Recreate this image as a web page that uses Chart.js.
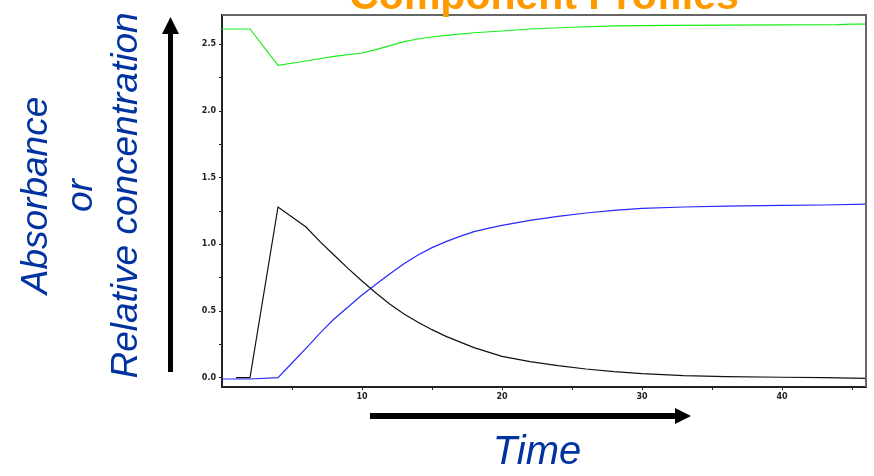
<!DOCTYPE html>
<html>
<head>
<meta charset="utf-8">
<script src="https://cdn.jsdelivr.net/npm/chart.js@4.4.1/dist/chart.umd.min.js"></script>
<style>
    html, body { margin: 0; padding: 0; background: #fff; }
    #wrap { position: relative; width: 874px; height: 476px; overflow: hidden; }
    #chart { position: absolute; left: 0; top: 0; }
    .title {
        position: absolute; left: 344px; top: -25px; width: 400px; text-align: center;
        font: bold 41px/41px "Liberation Sans", Arial, sans-serif; color: #ff9900; white-space: nowrap;
    }
    .ylabel {
        position: absolute; left: -121px; top: 128px; width: 400px; height: 135px;
        transform: rotate(-90deg); text-align: center;
        font: italic 37px/45px "Liberation Sans", Arial, sans-serif; color: #0033a0; white-space: nowrap;
    }
    .xlabel {
        position: absolute; left: 437px; top: 430px; width: 200px; text-align: center;
        font: italic 40px/40px "Liberation Sans", Arial, sans-serif; color: #0033a0;
    }
    svg { position: absolute; left: 0; top: 0; }
</style>
</head>
<body>
<div id="wrap">
    <canvas id="chart" width="874" height="476"></canvas>
    <svg width="874" height="476">
        <rect x="168" y="32" width="5" height="340" fill="#000"/>
        <polygon points="162,34 179,34 170.5,17" fill="#000"/>
        <rect x="370" y="413" width="308" height="6" fill="#000"/>
        <polygon points="675,408 675,424 691,416" fill="#000"/>
    </svg>
    <div class="title">Component Profiles</div>
    <div class="ylabel">Absorbance<br>or<br>Relative concentration</div>
    <div class="xlabel">Time</div>
</div>
<script>
    // Données
    const greenTime   = [0, 2, 4, 6, 8, 10, 11, 12, 13, 14, 15, 16, 18, 20, 22, 25, 28, 32, 36, 40, 44, 45, 46];
    const greenValues = [2.615, 2.615, 2.343, 2.375, 2.41, 2.435, 2.46, 2.49, 2.52, 2.54, 2.555, 2.567, 2.587, 2.60, 2.615, 2.628, 2.638, 2.642, 2.644, 2.646, 2.648, 2.652, 2.652];

    const blackTime   = [1, 2, 4, 6, 7, 8, 9, 10, 11, 12, 13, 14, 15, 16, 18, 20, 22, 24, 26, 28, 30, 33, 36, 40, 43, 46];
    const blackValues = [0, 0, 1.28, 1.13, 1.02, 0.92, 0.82, 0.725, 0.635, 0.55, 0.478, 0.415, 0.36, 0.31, 0.225, 0.16, 0.12, 0.09, 0.065, 0.045, 0.03, 0.015, 0.008, 0.003, 0.0, -0.005];

    const blueTime    = [0, 2, 4, 5, 6, 7, 8, 9, 10, 11, 12, 13, 14, 15, 16, 17, 18, 19, 20, 22, 24, 26, 28, 30, 33, 36, 40, 43, 46];
    const blueValues  = [-0.01, -0.01, 0.0, 0.11, 0.22, 0.334, 0.44, 0.53, 0.62, 0.70, 0.78, 0.855, 0.92, 0.975, 1.02, 1.06, 1.095, 1.12, 1.142, 1.18, 1.21, 1.235, 1.255, 1.27, 1.28, 1.287, 1.292, 1.295, 1.302];

    const xTicks = [5, 10, 15, 20, 25, 30, 35, 40, 45];
    const yTicks = [0, 0.25, 0.5, 0.75, 1.0, 1.25, 1.5, 1.75, 2.0, 2.25, 2.5];

    function toPoints(xs, ys) {
        return xs.map((x, i) => ({ x: x, y: ys[i] }));
    }

    // Cadre gris en haut et à droite
    const framePlugin = {
        id: 'frame',
        afterDraw(chart) {
            const a = chart.chartArea;
            const ctx = chart.ctx;
            ctx.save();
            ctx.strokeStyle = '#666';
            ctx.lineWidth = 2;
            ctx.beginPath();
            ctx.moveTo(a.left, a.top);
            ctx.lineTo(a.right, a.top);
            ctx.lineTo(a.right, a.bottom);
            ctx.stroke();
            ctx.restore();
        }
    };

    const tickFont = { family: '"DejaVu Sans", Verdana, sans-serif', size: 8, weight: 'bold' };

    new Chart(document.getElementById('chart'), {
        type: 'line',
        data: {
            datasets: [
                { data: toPoints(greenTime, greenValues), borderColor: '#1aee1a', borderWidth: 1.2 },
                { data: toPoints(blackTime, blackValues), borderColor: '#111', borderWidth: 1.2 },
                { data: toPoints(blueTime, blueValues), borderColor: '#2828ff', borderWidth: 1.2 }
            ]
        },
        options: {
            responsive: false,
            animation: false,
            elements: { point: { radius: 0 }, line: { tension: 0 } },
            layout: { padding: { left: 182, top: 15, right: 8, bottom: 59 } },
            plugins: { legend: { display: false }, tooltip: { enabled: false } },
            scales: {
                x: {
                    type: 'linear',
                    min: 0,
                    max: 46,
                    bounds: 'data',
                    afterBuildTicks: axis => { axis.ticks = xTicks.map(v => ({ value: v })); },
                    afterFit: axis => { axis.height = 30; },
                    border: { color: '#222', width: 2 },
                    grid: { drawOnChartArea: false, tickLength: 3, tickColor: '#222' },
                    ticks: {
                        autoSkip: false,
                        maxRotation: 0,
                        padding: 2,
                        color: '#222',
                        font: tickFont,
                        callback: v => (v % 10 === 0 ? String(v) : '')
                    }
                },
                y: {
                    type: 'linear',
                    min: -0.07,
                    max: 2.72,
                    bounds: 'data',
                    afterBuildTicks: axis => { axis.ticks = yTicks.map(v => ({ value: v })); },
                    afterFit: axis => { axis.width = 40; },
                    border: { color: '#222', width: 2 },
                    grid: { drawOnChartArea: false, tickLength: 3, tickColor: '#222' },
                    ticks: {
                        autoSkip: false,
                        padding: 3,
                        color: '#222',
                        font: tickFont,
                        callback: v => (Math.abs(v * 2 - Math.round(v * 2)) < 1e-6 ? v.toFixed(1) : '')
                    }
                }
            }
        },
        plugins: [framePlugin]
    });
</script>
</body>
</html>
